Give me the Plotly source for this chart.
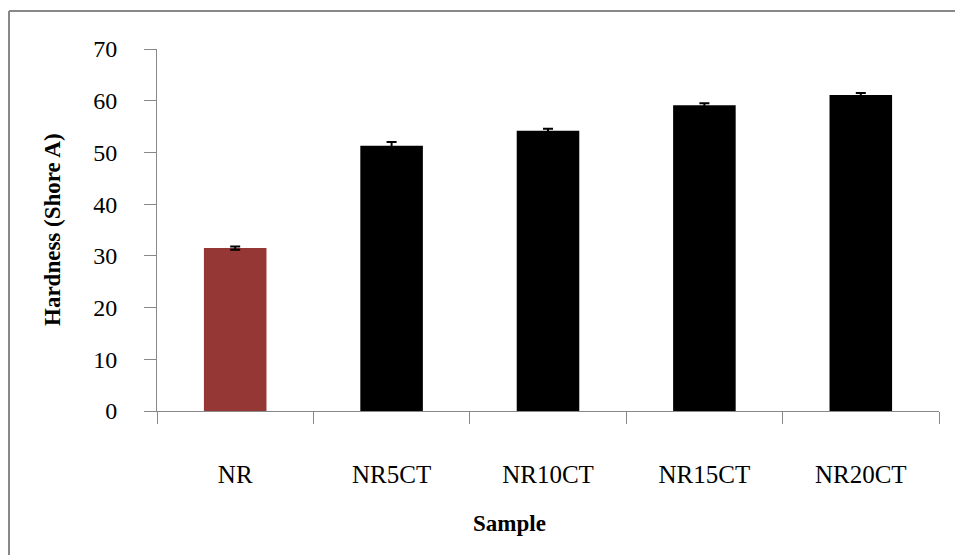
import plotly.graph_objects as go

# Shore A hardness of natural rubber and its CT-filled compounds
samples = ["NR", "NR5CT", "NR10CT", "NR15CT", "NR20CT"]
hardness = [31.5, 51.3, 54.2, 59.1, 61.1]
hardness_err = [0.3, 0.7, 0.4, 0.4, 0.4]
bar_colors = ["#953735", "#000000", "#000000", "#000000", "#000000"]
y_ticks = [0, 10, 20, 30, 40, 50, 60, 70]

FONT = "Liberation Serif, Times New Roman, serif"
AXIS_GREY = "#888888"

fig = go.Figure(
    go.Bar(
        x=samples,
        y=hardness,
        marker=dict(color=bar_colors, line=dict(width=0)),
        error_y=dict(type="data", array=hardness_err, visible=True,
                     color="#000000", thickness=2, width=5),
    )
)

fig.update_layout(
    width=955,
    height=555,
    margin=dict(l=157, r=16, t=49, b=144),
    paper_bgcolor="white",
    plot_bgcolor="white",
    bargap=0.6,
    showlegend=False,
    font=dict(family=FONT, size=23, color="#000000"),
)

fig.update_xaxes(
    type="category",
    showline=True, linecolor=AXIS_GREY, linewidth=1,
    ticks="outside", ticklen=12, tickcolor=AXIS_GREY, tickwidth=1,
    tickson="boundaries",
    ticklabelstandoff=41,
    tickfont=dict(family=FONT, size=25),
    showgrid=False, zeroline=False,
)

fig.update_yaxes(
    range=[0, 70],
    tickvals=y_ticks,
    showline=True, linecolor=AXIS_GREY, linewidth=1,
    ticks="outside", ticklen=12, tickcolor=AXIS_GREY, tickwidth=1,
    ticklabelstandoff=22,
    tickfont=dict(family=FONT, size=24),
    showgrid=False, zeroline=False,
)

# Axis titles
fig.add_annotation(text="<b>Sample</b>", xref="paper", yref="paper",
                   x=(509 - 157) / 782, y=-(523 - 410.7) / 361.7,
                   showarrow=False, xanchor="center", yanchor="middle",
                   font=dict(family=FONT, size=23))
fig.add_annotation(text="<b>Hardness (Shore A)</b>", xref="paper", yref="paper",
                   x=(52 - 157) / 782, y=0.5, textangle=-90,
                   showarrow=False, xanchor="center", yanchor="middle",
                   font=dict(family=FONT, size=23))

# Chart frame (top and left edges)
fx = (9 - 157) / 782
fy = (410.7 - 11) / 361.7
fig.add_shape(type="line", xref="paper", yref="paper", x0=fx, x1=1.1,
              y0=fy, y1=fy, line=dict(color=AXIS_GREY, width=2))
fig.add_shape(type="line", xref="paper", yref="paper", x0=fx, x1=fx,
              y0=fy, y1=-0.5, line=dict(color=AXIS_GREY, width=2))

fig.write_html("out.html")
